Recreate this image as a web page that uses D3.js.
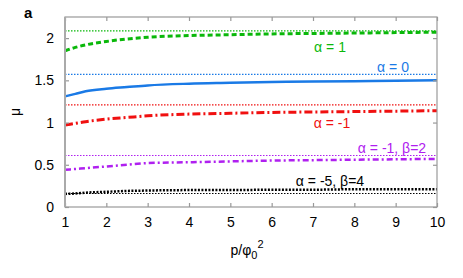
<!DOCTYPE html>
<html>
<head>
<meta charset="utf-8">
<script src="https://cdn.jsdelivr.net/npm/d3@7"></script>
<style>
  body { margin: 0; background: #fff; }
  svg text { font-family: "Liberation Sans", Arial, sans-serif; }
</style>
</head>
<body>
<div id="chart"></div>
<script>
// p/phi0^2 sample points
var xs = [1, 1.25, 1.5, 2, 2.5, 3, 4, 5, 6, 7, 8, 9, 10];

// mu curves
var muAlpha1 = [1.85, 1.89, 1.92, 1.96, 1.99, 2.01, 2.03, 2.04, 2.05, 2.055, 2.06, 2.065, 2.07];
var muAlpha0 = [1.31, 1.34, 1.37, 1.40, 1.42, 1.44, 1.46, 1.47, 1.48, 1.485, 1.49, 1.495, 1.50];
var muAlphaM1 = [0.97, 0.99, 1.01, 1.04, 1.06, 1.08, 1.10, 1.11, 1.12, 1.125, 1.13, 1.135, 1.14];
var muAlphaM1B2 = [0.44, 0.45, 0.46, 0.48, 0.50, 0.52, 0.53, 0.54, 0.55, 0.555, 0.56, 0.565, 0.57];
var muAlphaM5B4 = [0.155, 0.16, 0.17, 0.18, 0.19, 0.195, 0.2, 0.2, 0.205, 0.205, 0.21, 0.21, 0.21];

// limiting values (dotted horizontal lines)
var limits = [2.085, 1.57, 1.21, 0.61, 0.16];

var xTicks = [1, 2, 3, 4, 5, 6, 7, 8, 9, 10];
var yTicks = [0, 0.5, 1, 1.5, 2];

var series = [
  { name: "α = 1", values: muAlpha1, limit: limits[0], color: "#0ab80a", dash: "5,3", width: 3, lx: 330, ly: 47 },
  { name: "α = 0", values: muAlpha0, limit: limits[1], color: "#1a7ae6", dash: null, width: 2.5, lx: 393, ly: 67 },
  { name: "α = -1", values: muAlphaM1, limit: limits[2], color: "#f01010", dash: "8,3,2,3", width: 3, lx: 332, ly: 123 },
  { name: "α = -1, β=2", values: muAlphaM1B2, limit: limits[3], color: "#b020f0", dash: "6,3,2,3", width: 2.5, lx: 392, ly: 148 },
  { name: "α = -5, β=4", values: muAlphaM5B4, limit: limits[4], color: "#000000", dash: "2,1.5", width: 2.5, lx: 330, ly: 181 }
];

var margin = { top: 17, right: 26, bottom: 71, left: 65 };
var width = 463 - margin.left - margin.right;
var height = 278 - margin.top - margin.bottom;

var svg = d3.select("#chart").append("svg")
  .attr("width", 463)
  .attr("height", 278);

var g = svg.append("g")
  .attr("transform", "translate(" + margin.left + "," + margin.top + ")");

var x = d3.scaleLinear().domain([1, 10]).range([0, width]);
var y = d3.scaleLinear().domain([0, 2.25]).range([height, 0]);

// limit lines
series.forEach(function(s) {
  g.append("line")
    .attr("x1", 0).attr("x2", width)
    .attr("y1", y(s.limit)).attr("y2", y(s.limit))
    .style("stroke", s.color)
    .style("stroke-width", 1.2)
    .style("stroke-dasharray", "1.5,1.5");
});

// curves
var line = d3.line()
  .x(function(d) { return x(d[0]); })
  .y(function(d) { return y(d[1]); })
  .curve(d3.curveMonotoneX);

series.forEach(function(s) {
  g.append("path")
    .datum(xs.map(function(v, i) { return [v, s.values[i]]; }))
    .attr("d", line)
    .style("fill", "none")
    .style("stroke", s.color)
    .style("stroke-width", s.width)
    .style("stroke-dasharray", s.dash);

  svg.append("text")
    .attr("x", s.lx)
    .attr("y", s.ly)
    .attr("dy", "0.35em")
    .style("text-anchor", "middle")
    .style("font-size", "14px")
    .style("fill", s.color)
    .text(s.name);
});

// axes, ticks inward, mirrored
var fmt = function(d) { return String(d); };
g.append("g")
  .attr("transform", "translate(0," + height + ")")
  .call(d3.axisBottom(x).tickValues(xTicks).tickFormat(fmt).tickSizeInner(-4).tickSizeOuter(0).tickPadding(10));
g.append("g")
  .call(d3.axisTop(x).tickValues(xTicks).tickSizeInner(-4).tickSizeOuter(0).tickFormat(""));
g.append("g")
  .call(d3.axisLeft(y).tickValues(yTicks).tickFormat(fmt).tickSizeInner(-4).tickSizeOuter(0).tickPadding(11));
g.append("g")
  .attr("transform", "translate(" + width + ",0)")
  .call(d3.axisRight(y).tickValues(yTicks).tickSizeInner(-4).tickSizeOuter(0).tickFormat(""));

g.selectAll(".domain").remove();
g.selectAll(".tick line").style("stroke", "#999").style("stroke-width", 1.2);
g.selectAll(".tick text").style("font-size", "14px").style("fill", "#000")
  .style("font-family", "'Liberation Sans', Arial, sans-serif");

// frame
g.append("rect")
  .attr("width", width).attr("height", height)
  .style("fill", "none")
  .style("stroke", "#999")
  .style("stroke-width", 1.2);
g.append("line")
  .attr("x1", 0).attr("x2", 0).attr("y1", 0).attr("y2", height)
  .style("stroke", "#aaa").style("stroke-width", 2);

// axis labels
svg.append("text")
  .attr("transform", "translate(20,112) rotate(-90)")
  .style("text-anchor", "middle")
  .style("font-size", "14px")
  .text("μ");

var xl = svg.append("text")
  .attr("x", 247).attr("y", 255)
  .style("text-anchor", "middle")
  .style("font-size", "14px");
xl.append("tspan").text("p/φ");
xl.append("tspan").attr("dy", 4).style("font-size", "11px").text("0");
xl.append("tspan").attr("dy", -11).style("font-size", "11px").text("2");

svg.append("text")
  .attr("x", 24).attr("y", 18)
  .style("font-size", "15px")
  .style("font-weight", "bold")
  .text("a");
</script>
</body>
</html>
